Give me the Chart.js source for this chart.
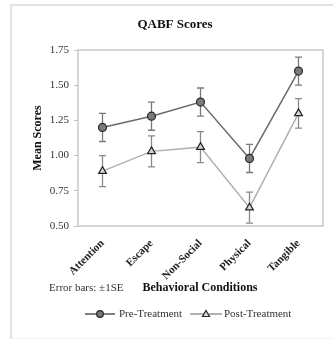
<!DOCTYPE html>
<html>
<head>
<meta charset="utf-8">
<script src="https://cdn.jsdelivr.net/npm/chart.js@4"></script>
<style>
  html, body { margin: 0; padding: 0; background: #fff; }
  #wrap { width: 333px; height: 340px; }
</style>
</head>
<body>
<div id="wrap"><canvas id="chart" width="333" height="340"></canvas></div>
<script>
// data
const conditions = ['Attention', 'Escape', 'Non-Social', 'Physical', 'Tangible'];
const preScores = [1.20, 1.28, 1.38, 0.98, 1.60];
const preSE = [0.10, 0.10, 0.10, 0.10, 0.10];
const postScores = [0.89, 1.03, 1.06, 0.63, 1.30];
const postSE = [0.11, 0.11, 0.11, 0.11, 0.105];
const yTicks = [0.50, 0.75, 1.00, 1.25, 1.50, 1.75];

const SERIF = '"Liberation Serif", "DejaVu Serif", serif';

// error bars, outer frame, plot box and the text bits around the chart
const extras = {
  id: 'extras',
  beforeDraw(chart){
    const c = chart.ctx;
    c.save();
    c.fillStyle = '#fff';
    c.fillRect(0, 0, chart.width, chart.height);
    c.strokeStyle = '#e2e2e2';
    c.lineWidth = 2;
    c.beginPath();
    c.moveTo(11, 339); c.lineTo(11, 5); c.lineTo(333, 5);
    c.stroke();
    c.strokeStyle = '#f2f2f2';
    c.lineWidth = 1;
    c.beginPath(); c.moveTo(11, 338.5); c.lineTo(333, 338.5); c.stroke();
    c.restore();
  },
  beforeDatasetsDraw(chart){
    const c = chart.ctx;
    const a = chart.chartArea;
    const x = chart.scales.x, y = chart.scales.y;
    c.save();
    c.strokeStyle = '#c9c9c9';
    c.lineWidth = 1.5;
    c.strokeRect(a.left, a.top, a.right - a.left, a.bottom - a.top);
    const sets = [[preScores, preSE, '#7a7a7a'], [postScores, postSE, '#8a8a8a']];
    sets.forEach(([vals, se, col]) => {
      c.strokeStyle = col;
      c.lineWidth = 1.3;
      vals.forEach((v, i) => {
        const px = x.getPixelForValue(i);
        const top = y.getPixelForValue(v + se[i]);
        const bot = y.getPixelForValue(v - se[i]);
        c.beginPath();
        c.moveTo(px, top); c.lineTo(px, bot);
        c.moveTo(px - 3.5, top); c.lineTo(px + 3.5, top);
        c.moveTo(px - 3.5, bot); c.lineTo(px + 3.5, bot);
        c.stroke();
      });
    });
    c.restore();
  },
  afterDraw(chart){
    const c = chart.ctx;
    const a = chart.chartArea;
    c.save();
    c.fillStyle = '#111';
    c.textAlign = 'center';
    c.textBaseline = 'middle';
    c.font = 'bold 13px ' + SERIF;
    c.fillText('QABF Scores', 175, 25);

    c.save();
    c.translate(38, (a.top + a.bottom) / 2);
    c.rotate(-Math.PI / 2);
    c.font = 'bold 12px ' + SERIF;
    c.fillText('Mean Scores', 0, 0);
    c.restore();

    c.font = 'bold 12px ' + SERIF;
    c.fillText('Behavioral Conditions', 200, 288);
    c.font = '11px ' + SERIF;
    c.fillStyle = '#333';
    c.textAlign = 'left';
    c.fillText('Error bars: \u00b11SE', 49, 288);

    // legend
    const ly = 314;
    c.lineWidth = 1.5;
    c.strokeStyle = '#555';
    c.beginPath(); c.moveTo(85, ly); c.lineTo(115, ly); c.stroke();
    c.fillStyle = '#777';
    c.strokeStyle = '#222';
    c.lineWidth = 1.2;
    c.beginPath(); c.arc(100, ly, 3.3, 0, Math.PI * 2); c.fill(); c.stroke();
    c.strokeStyle = '#999';
    c.lineWidth = 1.5;
    c.beginPath(); c.moveTo(190, ly); c.lineTo(222, ly); c.stroke();
    c.fillStyle = '#ddd';
    c.strokeStyle = '#222';
    c.lineWidth = 1.2;
    c.beginPath(); c.moveTo(206, ly - 3.5); c.lineTo(209.5, ly + 2.5); c.lineTo(202.5, ly + 2.5); c.closePath(); c.fill(); c.stroke();
    c.fillStyle = '#333';
    c.font = '11px ' + SERIF;
    c.fillText('Pre-Treatment', 119, ly);
    c.fillText('Post-Treatment', 224, ly);
    c.restore();
  }
};

new Chart(document.getElementById('chart'), {
  type: 'line',
  data: {
    labels: conditions,
    datasets: [
      {
        label: 'Pre-Treatment',
        data: preScores,
        borderColor: '#6a6a6a',
        borderWidth: 1.5,
        pointStyle: 'circle',
        pointRadius: 4,
        pointBackgroundColor: '#7a7a7a',
        pointBorderColor: '#2a2a2a',
        pointBorderWidth: 1.2,
        tension: 0
      },
      {
        label: 'Post-Treatment',
        data: postScores,
        borderColor: '#b0b0b0',
        borderWidth: 1.5,
        pointStyle: 'triangle',
        pointRadius: 4.5,
        pointBackgroundColor: '#d8d8d8',
        pointBorderColor: '#222',
        pointBorderWidth: 1.2,
        tension: 0
      }
    ]
  },
  options: {
    responsive: false,
    animation: false,
    layout: { padding: { top: 50, right: 10, left: 0, bottom: 0 } },
    plugins: {
      legend: { display: false },
      title: { display: false },
      tooltip: { enabled: false }
    },
    scales: {
      x: {
        offset: true,
        grid: { display: false },
        border: { display: false },
        ticks: {
          minRotation: 45,
          maxRotation: 45,
          padding: 3,
          color: '#222',
          font: { family: SERIF, size: 11, weight: 'bold' }
        },
        afterFit(s){ s.height = 114; }
      },
      y: {
        min: 0.5,
        max: 1.75,
        afterBuildTicks(s){ s.ticks = yTicks.map(v => ({ value: v })); },
        grid: { drawOnChartArea: false, tickLength: 4, color: '#c0c0c0' },
        border: { display: false },
        ticks: {
          padding: 5,
          color: '#333',
          font: { family: SERIF, size: 11 },
          callback: v => v.toFixed(2)
        },
        afterFit(s){ s.width = 78; }
      }
    }
  },
  plugins: [extras]
});
</script>
</body>
</html>
